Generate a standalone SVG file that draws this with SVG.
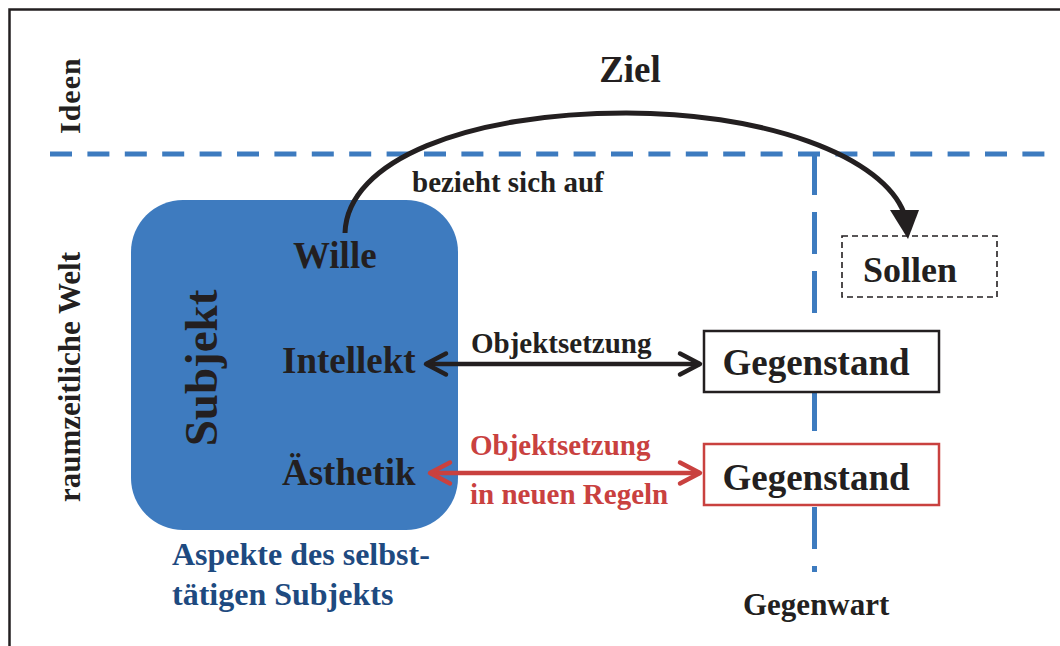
<svg xmlns="http://www.w3.org/2000/svg" width="1060" height="646" viewBox="0 0 1060 646">
  <defs>
    <style>
      text { font-family: "Liberation Serif", "Times New Roman", serif; font-weight: bold; fill: #231f20; }
      .node-label { font-size: 37px; }
      .edge-label { font-size: 29px; }
      .red { fill: #c9413f; }
      .navy { fill: #1e4a80; }
      .grid { stroke: #3d7bbf; stroke-width: 5; fill: none; }
      .box { fill: #ffffff; stroke-width: 2.5; }
    </style>
    <marker id="chev-black" viewBox="0 0 26 26" markerWidth="26" markerHeight="26" refX="23" refY="13" orient="auto-start-reverse" markerUnits="userSpaceOnUse" overflow="visible">
      <path d="M3,2.5 L23,13 L3,23.5" fill="none" stroke="#231f20" stroke-width="4.5" stroke-linecap="round" stroke-linejoin="round"/>
    </marker>
    <marker id="chev-red" viewBox="0 0 26 26" markerWidth="26" markerHeight="26" refX="23" refY="13" orient="auto-start-reverse" markerUnits="userSpaceOnUse" overflow="visible">
      <path d="M3,2.5 L23,13 L3,23.5" fill="none" stroke="#c9413f" stroke-width="4.5" stroke-linecap="round" stroke-linejoin="round"/>
    </marker>
  </defs>

  <rect width="1060" height="646" fill="#ffffff"/>

  <!-- outer frame (runs off the right and bottom edges) -->
  <path d="M9.5,646 L9.5,9.5 L1060,9.5" fill="none" stroke="#231f20" stroke-width="2.5"/>

  <!-- region borders: ideas / space-time world, present -->
  <g id="regions">
    <line class="grid" x1="50" y1="154" x2="1046" y2="154" stroke-dasharray="22 15.4"/>
    <line class="grid" x1="814.5" y1="153" x2="814.5" y2="572" stroke-dasharray="42 17"/>
    <text transform="translate(80,134) rotate(-90)" style="font-size:30px;letter-spacing:1px">Ideen</text>
    <text transform="translate(80,377) rotate(-90)" text-anchor="middle" style="font-size:31px">raumzeitliche Welt</text>
    <text x="743" y="615" style="font-size:31px">Gegenwart</text>
  </g>

  <!-- subject with its three aspects -->
  <g id="subjekt">
    <rect x="131" y="200" width="327" height="330" rx="52" ry="52" fill="#3e7bbf"/>
    <text transform="translate(217,368) rotate(-90)" text-anchor="middle" style="font-size:47px">Subjekt</text>
    <text x="172" y="565" class="navy" style="font-size:32px">Aspekte des selbst-</text>
    <text x="172" y="605" class="navy" style="font-size:32px">tätigen Subjekts</text>
  </g>
  <g id="wille"><text class="node-label" x="293" y="268">Wille</text></g>
  <g id="intellekt"><text class="node-label" x="282" y="373">Intellekt</text></g>
  <g id="aesthetik"><text class="node-label" x="282" y="485">Ästhetik</text></g>

  <g id="sollen">
    <rect x="842" y="236" width="155" height="61" fill="#ffffff" stroke="#231f20" stroke-width="1.6" stroke-dasharray="6 4"/>
    <text x="863" y="282" style="font-size:36px">Sollen</text>
  </g>

  <g id="gegenstand-1">
    <rect class="box" x="704" y="331" width="235" height="61" stroke="#231f20"/>
    <text class="node-label" x="816" y="375" text-anchor="middle">Gegenstand</text>
  </g>

  <g id="gegenstand-2">
    <rect class="box" x="704" y="444" width="235" height="61" stroke="#c9413f" stroke-width="2"/>
    <text class="node-label" x="816" y="490" text-anchor="middle">Gegenstand</text>
  </g>

  <!-- connectors -->
  <g id="connectors">
    <!-- Wille -> Sollen -->
    <path d="M345,233 C347,160 468,113 626,113 A281,119 0 0 1 904,213" fill="none" stroke="#231f20" stroke-width="5"/>
    <polygon points="890,210 919,210 908,239" fill="#231f20"/>
    <text x="630" y="82" text-anchor="middle" style="font-size:37px">Ziel</text>
    <text class="edge-label" x="412" y="192">bezieht sich auf</text>

    <!-- Intellekt <-> Gegenstand -->
    <line x1="426" y1="364" x2="700" y2="364" stroke="#231f20" stroke-width="4.5" marker-start="url(#chev-black)" marker-end="url(#chev-black)"/>
    <text class="edge-label" x="471" y="353">Objektsetzung</text>

    <!-- Ästhetik <-> Gegenstand -->
    <line x1="430" y1="473" x2="700" y2="473" stroke="#c9413f" stroke-width="4.5" marker-start="url(#chev-red)" marker-end="url(#chev-red)"/>
    <text class="edge-label red" x="470" y="455">Objektsetzung</text>
    <text class="edge-label red" x="470" y="504">in neuen Regeln</text>
  </g>
</svg>
